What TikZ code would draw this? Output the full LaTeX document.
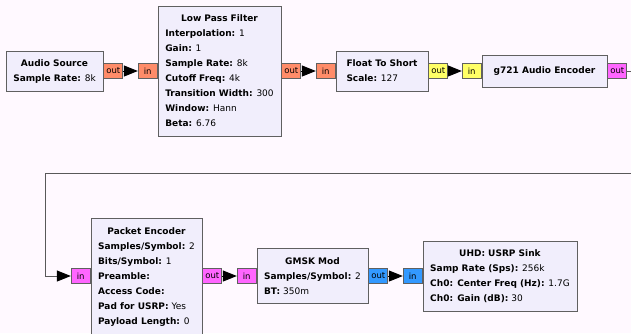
\documentclass[tikz,border=0pt]{standalone}
\usepackage{fontspec}
\setmainfont{DejaVu Sans}
\usepackage{tikz}
\usetikzlibrary{arrows.meta,positioning}

\definecolor{canvas}{HTML}{FFF9FF}
\definecolor{blockfill}{HTML}{F1EEFC}
\definecolor{blockline}{HTML}{606060}
\definecolor{floatc}{HTML}{FF8C69}
\definecolor{shortc}{HTML}{FFFF66}
\definecolor{bytec}{HTML}{FF66FF}
\definecolor{complexc}{HTML}{3399FF}

\begin{document}
\begin{tikzpicture}[
  x=1pt, y=-1pt,
  font=\fontsize{9}{15}\selectfont,
  block/.style={draw=blockline, fill=blockfill, line width=0.9pt, inner sep=0pt, align=center},
  port/.style={draw=blockline, line width=0.7pt, inner sep=1pt, minimum width=19, minimum height=15, font=\fontsize{8.5}{10}\selectfont},
  inport/.style={port, anchor=east},
  outport/.style={port, anchor=west},
  conn/.style={-{Triangle[length=14pt, width=11pt, black]}, line width=0.9pt, black},
  loop/.style={-{Triangle[length=14pt, width=11pt, black]}, line width=0.9pt, black!65}
]
\useasboundingbox (0,0) rectangle (631,333);
\clip (0,0) rectangle (631,333);
\fill[canvas] (0,0) rectangle (631,333);

% top row
\node[block, minimum width=97, minimum height=40] (src) at (54.5,71) {\begin{tabular}{@{}l@{}}\multicolumn{1}{@{}c@{}}{\textbf{Audio Source}}\\ \textbf{Sample Rate:} 8k\end{tabular}};
\node[block, minimum width=123, minimum height=130] (lpf) at (219.5,71) {\begin{tabular}{@{}l@{}}\multicolumn{1}{@{}c@{}}{\textbf{Low Pass Filter}}\\ \textbf{Interpolation:} 1\\ \textbf{Gain:} 1\\ \textbf{Sample Rate:} 8k\\ \textbf{Cutoff Freq:} 4k\\ \textbf{Transition Width:} 300\\ \textbf{Window:} Hann\\ \textbf{Beta:} 6.76\end{tabular}};
\node[block, minimum width=92, minimum height=40] (fts) at (382,71) {\begin{tabular}{@{}l@{}}\multicolumn{1}{@{}c@{}}{\textbf{Float To Short}}\\ \textbf{Scale:} 127\end{tabular}};
\node[block, minimum width=125, minimum height=32] (enc) at (544.5,71) {\textbf{g721 Audio Encoder}};

% bottom row
\node[block, minimum width=111, minimum height=116] (pkt) at (146.5,276) {\begin{tabular}{@{}l@{}}\multicolumn{1}{@{}c@{}}{\textbf{Packet Encoder}}\\ \textbf{Samples/Symbol:} 2\\ \textbf{Bits/Symbol:} 1\\ \textbf{Preamble:}\\ \textbf{Access Code:}\\ \textbf{Pad for USRP:} Yes\\ \textbf{Payload Length:} 0\end{tabular}};
\node[block, minimum width=111, minimum height=55] (gmsk) at (312.5,276) {\begin{tabular}{@{}l@{}}\multicolumn{1}{@{}c@{}}{\textbf{GMSK Mod}}\\ \textbf{Samples/Symbol:} 2\\ \textbf{BT:} 350m\end{tabular}};
\node[block, minimum width=154, minimum height=70] (usrp) at (500,276) {\begin{tabular}{@{}l@{}}\multicolumn{1}{@{}c@{}}{\textbf{UHD: USRP Sink}}\\ \textbf{Samp Rate (Sps):} 256k\\ \textbf{Ch0: Center Freq (Hz):} 1.7G\\ \textbf{Ch0: Gain (dB):} 30\end{tabular}};

% ports
\node[outport, fill=floatc] (srcout) at (src.east) {out};
\node[inport, fill=floatc] (lpfin) at (lpf.west) {in};
\node[outport, fill=floatc] (lpfout) at (lpf.east) {out};
\node[inport, fill=floatc] (ftsin) at (fts.west) {in};
\node[outport, fill=shortc] (ftsout) at (fts.east) {out};
\node[inport, fill=shortc] (encin) at (enc.west) {in};
\node[outport, fill=bytec] (encout) at (enc.east) {out};
\node[inport, fill=bytec] (pktin) at (pkt.west) {in};
\node[outport, fill=bytec] (pktout) at (pkt.east) {out};
\node[inport, fill=bytec] (gmskin) at (gmsk.west) {in};
\node[outport, fill=complexc] (gmskout) at (gmsk.east) {out};
\node[inport, fill=complexc] (usrpin) at (usrp.west) {in};

\coordinate (loopne) at (645,71);
\coordinate (loopse) at (645,173);
\coordinate (loopsw) at (45,173);

\draw[conn] (srcout.east) -- (lpfin.west);
\draw[conn] (lpfout.east) -- (ftsin.west);
\draw[conn] (ftsout.east) -- (encin.west);
\draw[loop] (encout.east) -- (loopne) -- (loopse) -- (loopsw) |- (pktin.west);
\draw[conn] (pktout.east) -- (gmskin.west);
\draw[conn] (gmskout.east) -- (usrpin.west);
\end{tikzpicture}
\end{document}
